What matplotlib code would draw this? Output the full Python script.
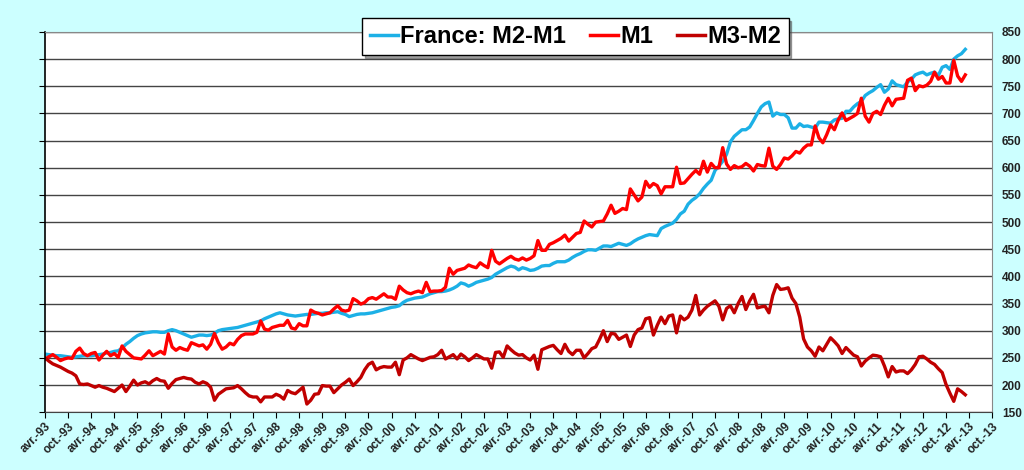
import numpy as np
import matplotlib

matplotlib.use('agg')
import matplotlib.pyplot as plt

plt.rcParams['font.family'] = ['Liberation Sans', 'DejaVu Sans']

# monthly values, avr.-93 .. mars-13
m2_m1 = [
    257, 256, 255, 254, 254, 253, 252, 251, 252, 253, 254, 254,
    254, 255, 256, 257, 259, 260, 262, 263, 268, 275, 280, 286,
    291, 294, 296, 297, 298, 298, 297, 297, 300, 302, 300, 297,
    294, 291, 288, 290, 292, 292, 291, 292, 295, 300, 302, 303,
    304, 305, 306, 308, 310, 312, 314, 316, 318, 322, 325, 328,
    331, 333, 331, 329, 328, 327, 328, 329, 330, 330, 331, 332,
    332, 333, 333, 334, 335, 332, 330, 326, 328, 330, 331, 331,
    332, 333, 335, 337, 339, 341, 343, 344, 346, 352, 356, 358,
    360, 361, 362, 365, 368, 370, 372, 372, 373, 375, 378, 382,
    388, 386, 382, 385, 389, 391, 393, 395, 398, 404, 408, 412,
    416, 419, 417, 412, 416, 414, 411, 412, 415, 419, 420, 420,
    424, 427, 427, 427, 430, 435, 439, 442, 446, 449, 449, 448,
    452, 456, 456, 455, 458, 461, 459, 457, 460, 465, 469, 472,
    475, 477, 476, 475, 488, 492, 495, 498, 505, 515, 520, 533,
    540, 545, 552, 562, 570, 577, 595, 603, 612, 625, 648, 658,
    664, 670, 670, 675, 687, 700, 712, 718, 721, 695, 701, 698,
    698, 692, 673, 673, 681, 676, 677, 675, 673, 684, 684, 683,
    682, 688, 690, 691, 704, 704, 712, 718, 722, 733, 738, 742,
    748, 753, 739, 745, 760, 753, 751, 749, 758, 763, 771, 774,
    776, 771, 774, 776, 770, 785, 788, 781, 800, 806, 810, 818,
]

m1 = [
    248, 252, 256, 251, 245, 248, 250, 249, 262, 268, 258, 254,
    258, 260, 246, 255, 262, 254, 258, 251, 272, 262, 256, 250,
    249, 248, 255, 263, 254, 258, 262, 257, 294, 270, 264, 269,
    266, 264, 278, 275, 272, 274, 266, 275, 295, 278, 266, 270,
    277, 274, 284, 291, 294, 294, 294, 297, 318, 303, 301, 306,
    308, 310, 310, 319, 305, 303, 313, 309, 309, 338, 334, 332,
    329, 331, 333, 340, 346, 338, 336, 338, 359, 355, 349, 352,
    359, 361, 358, 363, 368, 362, 362, 358, 382, 375, 370, 368,
    371, 373, 370, 389, 372, 373, 373, 374, 380, 415, 404, 411,
    413, 415, 421, 418, 416, 425, 420, 416, 448, 428, 423, 428,
    433, 437, 432, 430, 434, 430, 433, 438, 466, 448, 448, 459,
    462, 466, 470, 476, 465, 472, 479, 481, 502, 496, 491, 500,
    501, 502, 515, 531, 516, 520, 525, 523, 561, 550, 539, 546,
    575, 564, 571, 567, 552, 565, 565, 565, 601, 571, 572, 580,
    588, 595, 588, 612, 592, 608, 600, 600, 637, 607, 597, 604,
    600, 602, 608, 603, 594, 606, 604, 603, 636, 603, 597, 606,
    618, 616, 622, 630, 627, 636, 642, 642, 677, 655, 646, 661,
    679, 670, 688, 701, 687, 691, 695, 700, 728, 695, 684, 700,
    704, 698, 715, 728, 714, 726, 727, 728, 761, 765, 742, 751,
    749, 752, 759, 776, 763, 768, 756, 756, 798, 769, 759, 771,
]

m3_m2 = [
    250, 244, 239, 236, 233, 229, 225, 222, 217, 202, 201, 202,
    199, 196, 199, 196, 194, 191, 188, 194, 200, 188, 198, 209,
    200, 204, 206, 202, 208, 212, 208, 207, 194, 203, 210, 212,
    214, 212, 211, 205, 202, 206, 203, 196, 172, 183, 188, 193,
    194, 195, 199, 193, 186, 180, 178, 178, 169, 178, 178, 178,
    183, 180, 174, 190, 186, 184, 190, 196, 165, 172, 183, 184,
    199, 198, 198, 186, 193, 200, 205, 211, 199, 206, 214, 228,
    238, 242, 228, 232, 234, 233, 233, 242, 219, 246, 250, 256,
    252, 248, 245, 248, 251, 252, 256, 264, 248, 252, 256, 248,
    257, 252, 245, 250, 256, 252, 248, 248, 231, 260, 261, 251,
    272, 265, 259, 255, 256, 250, 246, 255, 229, 265, 268, 271,
    273, 265, 258, 275, 262, 256, 264, 264, 250, 258, 267, 270,
    284, 300, 280, 295, 294, 284, 288, 292, 271, 292, 302, 305,
    322, 324, 292, 310, 325, 313, 327, 329, 296, 327, 320, 325,
    338, 365, 329, 338, 345, 350, 355, 345, 320, 341, 346, 333,
    350, 363, 339, 355, 367, 342, 344, 345, 333, 365, 385, 376,
    377, 379, 360, 350, 325, 285, 270, 263, 253, 270, 263, 275,
    287, 280, 272, 258, 269, 262, 255, 252, 235, 244, 250, 255,
    254, 252, 235, 215, 234, 224, 226, 226, 221, 228, 238, 252,
    253, 248, 242, 238, 230, 223, 201, 185, 170, 193, 188, 182,
]

tick_labels = ['%s-%02d' % ('avr.' if i % 2 == 0 else 'oct.', (93 + i // 2) % 100)
               for i in range(42)]

x = np.arange(len(m1))

fig = plt.figure(figsize=(10.24, 4.70), dpi=100, facecolor='#ccffff')
ax = fig.add_axes([0.044, 0.123, 0.925, 0.809])
ax.set_facecolor('white')

ax.plot(x, m2_m1, color='#1cb0e6', lw=2.4, label='France: M2-M1')
ax.plot(x, m1, color='#ff0000', lw=2.4, label='M1')
ax.plot(x, m3_m2, color='#c00000', lw=2.4, label='M3-M2')

ax.set_xlim(0, 246)
ax.set_ylim(150, 850)
ax.set_yticks(np.arange(150, 851, 50))
ax.yaxis.tick_right()
ax.tick_params(axis='y', which='both', left=True, right=False, length=4,
               labelsize=8.5, labelcolor='#222222', pad=3)
for lab in ax.get_yticklabels():
    lab.set_fontweight('bold')
ax.grid(axis='y', color='#444444', lw=1)
ax.set_axisbelow(True)

ax.set_xticks(np.arange(0, 247, 6))
ax.set_xticklabels(tick_labels, rotation=45, ha='right', rotation_mode='anchor',
                   fontsize=8.5, fontweight='bold', color='#222222')
ax.tick_params(axis='x', length=4, pad=2)

ax.spines['left'].set_color('black')
ax.spines['left'].set_linewidth(1.2)
ax.spines['right'].set_color('#888888')
ax.spines['top'].set_color('#888888')
ax.spines['bottom'].set_color('#444444')

leg = ax.legend(loc='center', bbox_to_anchor=(0.56, 0.988), ncol=3,
                prop={'weight': 'bold', 'size': 17}, frameon=True, fancybox=False,
                shadow=True, handlelength=1.2, handletextpad=0.1, columnspacing=1.0,
                borderpad=0.3, edgecolor='black', framealpha=1)
leg.get_frame().set_linewidth(1.0)
for line in leg.get_lines():
    line.set_linewidth(2.5)

fig.savefig('out.png', dpi=100, facecolor=fig.get_facecolor())
